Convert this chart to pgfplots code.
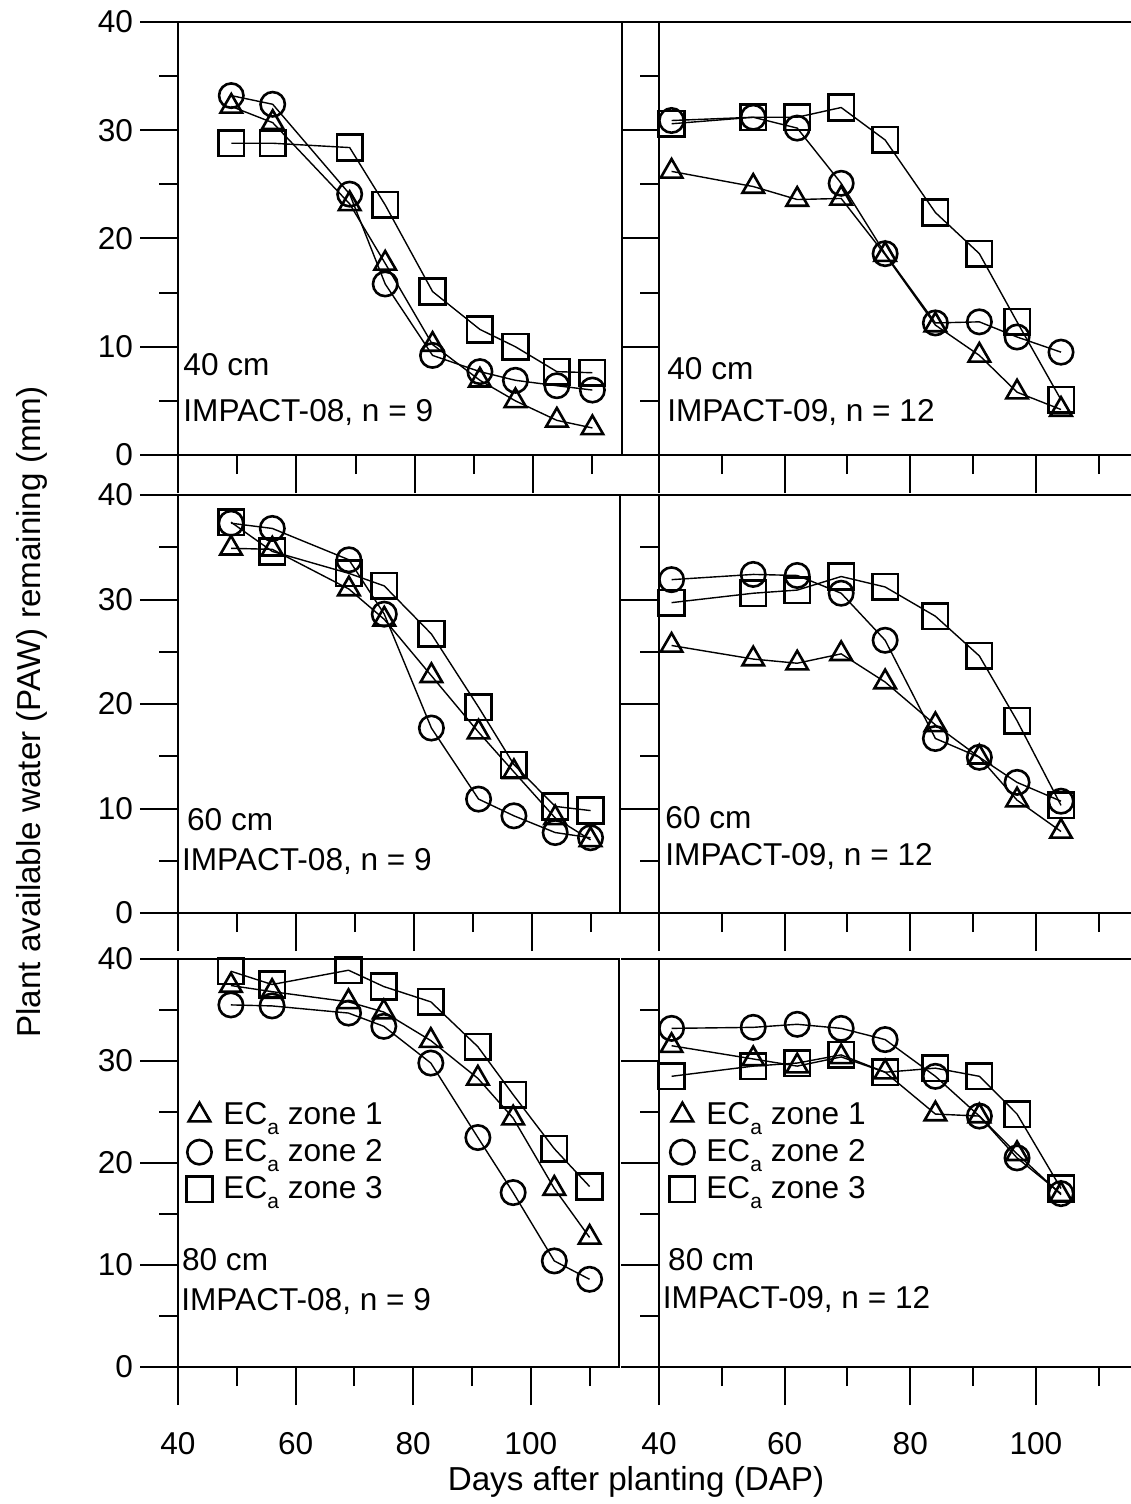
\documentclass[border=0pt]{standalone}
\usepackage{fontspec}
\setmainfont{Liberation Sans}
\usepackage{pgfplots}
\pgfplotsset{compat=1.18}
\newcommand{\fs}{\fontsize{15.8}{19}\selectfont}
\newcommand{\fl}{\fontsize{16.6}{20}\selectfont}
\newcommand{\ECa}{EC\raisebox{-0.32em}{\fontsize{10.5}{12}\selectfont a}}
\pgfplotsset{
  panel/.style={
    scale only axis, clip=false,
    xmin=40, ymin=0, ymax=40,
    xtick={40,60,80,100}, minor xtick={50,70,90,110},
    ytick={0,10,20,30,40}, minor ytick={5,15,25,35},
    tick align=outside, xtick pos=bottom, ytick pos=left,
    major tick length=19pt, minor tick length=9.5pt,
    every tick/.style={black, line width=1pt},
    axis line style={line width=1pt},
    /pgf/number format/assume math mode=true,
    tick label style={font=\fs},
    yticklabel style={anchor=east},
    xticklabel style={yshift=-10pt},
    every axis plot/.append style={black, line width=0.7pt, mark options={solid, line width=1.3pt, fill=none}},
  },
  leftcol/.style={panel, xmax=115, yticklabels={0,10,20,30,40}},
  rightcol/.style={panel, xmax=115.3, yticklabels={}},
  upper/.style={xticklabels={}},
  lower/.style={xticklabels={40,60,80,100}},
  z1/.style={mark=triangle, mark size=6.2pt},
  z2/.style={mark=o, mark size=6.1pt},
  z3/.style={mark=square, mark size=6.4pt},
  leg/.style={
    legend style={draw=none, fill=none, font=\fs, at={(#1,0.654)}, anchor=north west,
      inner sep=0pt, row sep=4pt, column sep=4pt, nodes={inner sep=1pt}},
    legend cell align=left,
    legend image code/.code={\draw[##1, only marks] plot coordinates {(0pt,0pt)}; \path[draw=none, fill=none] (-7pt,-7pt) rectangle (7pt,7pt);},
  },
}
\begin{document}
\begin{tikzpicture}
\useasboundingbox (0,0) rectangle (565pt,-752pt);

% ---------- top left: IMPACT-08, 40 cm
\begin{axis}[leftcol, upper, at={(89pt,-11pt)}, anchor=north west, width=222pt, height=216.5pt]
\addplot[z1] coordinates {(49,32.2)(56,30.7)(69,23.2)(75,17.7)(83,10.2)(91,6.9)(97,5.0)(104,3.2)(110,2.5)};
\addplot[z2] coordinates {(49,33.2)(56,32.4)(69,24.1)(75,15.8)(83,9.2)(91,7.7)(97,6.9)(104,6.4)(110,6.0)};
\addplot[z3] coordinates {(49,28.8)(56,28.8)(69,28.4)(75,23.1)(83,15.1)(91,11.6)(97,10.0)(104,7.7)(110,7.6)};
\node[anchor=base west, font=\fs, inner sep=0pt] at (axis cs:40.85,7.3) {40 cm};
\node[anchor=base west, font=\fs, inner sep=0pt] at (axis cs:40.85,3.14) {IMPACT-08, n = 9};
\end{axis}

% ---------- top right: IMPACT-09, 40 cm
\begin{axis}[rightcol, upper, at={(329.5pt,-11pt)}, anchor=north west, width=236.5pt, height=216.5pt]
\addplot[z1] coordinates {(42,26.2)(55,24.8)(62,23.6)(69,23.7)(76,18.5)(84,12.0)(91,9.2)(97,5.8)(104,4.2)};
\addplot[z2] coordinates {(42,30.9)(55,31.2)(62,30.2)(69,25.1)(76,18.6)(84,12.2)(91,12.3)(97,10.9)(104,9.5)};
\addplot[z3] coordinates {(42,30.6)(55,31.2)(62,31.2)(69,32.1)(76,29.1)(84,22.4)(91,18.6)(97,12.3)(104,5.1)};
\node[anchor=base west, font=\fs, inner sep=0pt] at (axis cs:41.27,7.0) {40 cm};
\node[anchor=base west, font=\fs, inner sep=0pt] at (axis cs:41.27,3.14) {IMPACT-09, n = 12};
\end{axis}

% ---------- middle left: IMPACT-08, 60 cm
\begin{axis}[leftcol, upper, at={(89pt,-247.5pt)}, anchor=north west, width=221pt, height=209pt]
\addplot[z1] coordinates {(49,34.9)(56,34.8)(69,31.0)(75,28.1)(83,22.7)(91,17.3)(97,13.5)(104,9.1)(110,7.0)};
\addplot[z2] coordinates {(49,37.3)(56,36.8)(69,33.8)(75,28.6)(83,17.7)(91,10.9)(97,9.3)(104,7.7)(110,7.2)};
\addplot[z3] coordinates {(49,37.4)(56,34.6)(69,32.5)(75,31.3)(83,26.7)(91,19.7)(97,14.2)(104,10.2)(110,9.8)};
\node[anchor=base west, font=\fs, inner sep=0pt] at (axis cs:41.48,7.94) {60 cm};
\node[anchor=base west, font=\fs, inner sep=0pt] at (axis cs:40.63,4.11) {IMPACT-08, n = 9};
\end{axis}

% ---------- middle right: IMPACT-09, 60 cm
\begin{axis}[rightcol, upper, at={(329.5pt,-247.5pt)}, anchor=north west, width=236.5pt, height=209pt]
\addplot[z1] coordinates {(42,25.6)(55,24.3)(62,23.9)(69,24.8)(76,22.1)(84,18.0)(91,14.9)(97,10.8)(104,7.8)};
\addplot[z2] coordinates {(42,31.9)(55,32.4)(62,32.3)(69,30.6)(76,26.1)(84,16.7)(91,14.9)(97,12.5)(104,10.7)};
\addplot[z3] coordinates {(42,29.7)(55,30.6)(62,30.9)(69,32.2)(76,31.2)(84,28.4)(91,24.6)(97,18.4)(104,10.3)};
\node[anchor=base west, font=\fs, inner sep=0pt] at (axis cs:40.96,8.13) {60 cm};
\node[anchor=base west, font=\fs, inner sep=0pt] at (axis cs:40.96,4.59) {IMPACT-09, n = 12};
\end{axis}

% ---------- bottom left: IMPACT-08, 80 cm
\begin{axis}[leftcol, lower, leg=0.016, at={(89pt,-479.5pt)}, anchor=north west, width=220.5pt, height=204pt]
\addplot[z1] coordinates {(49,37.4)(56,36.8)(69,35.8)(75,34.8)(83,32.0)(91,28.3)(97,24.4)(104,17.5)(110,12.7)};
\addlegendentry{\ECa{} zone 1}
\addplot[z2] coordinates {(49,35.5)(56,35.4)(69,34.7)(75,33.4)(83,29.8)(91,22.5)(97,17.1)(104,10.4)(110,8.6)};
\addlegendentry{\ECa{} zone 2}
\addplot[z3] coordinates {(49,38.8)(56,37.5)(69,38.9)(75,37.3)(83,35.8)(91,31.4)(97,26.7)(104,21.4)(110,17.7)};
\addlegendentry{\ECa{} zone 3}
\node[anchor=base west, font=\fs, inner sep=0pt] at (axis cs:40.63,9.5) {80 cm};
\node[anchor=base west, font=\fs, inner sep=0pt] at (axis cs:40.5,5.5) {IMPACT-08, n = 9};
\end{axis}

% ---------- bottom right: IMPACT-09, 80 cm
\begin{axis}[rightcol, lower, leg=0.019, at={(329.5pt,-479.5pt)}, anchor=north west, width=236.5pt, height=204pt]
\addplot[z1] coordinates {(42,31.5)(55,30.2)(62,29.5)(69,30.4)(76,28.9)(84,24.8)(91,24.6)(97,20.9)(104,16.9)};
\addlegendentry{\ECa{} zone 1}
\addplot[z2] coordinates {(42,33.2)(55,33.3)(62,33.6)(69,33.2)(76,32.1)(84,28.5)(91,24.6)(97,20.5)(104,17.0)};
\addlegendentry{\ECa{} zone 2}
\addplot[z3] coordinates {(42,28.5)(55,29.5)(62,29.8)(69,30.6)(76,28.9)(84,29.3)(91,28.5)(97,24.8)(104,17.5)};
\addlegendentry{\ECa{} zone 3}
\node[anchor=base west, font=\fs, inner sep=0pt] at (axis cs:41.4,9.5) {80 cm};
\node[anchor=base west, font=\fs, inner sep=0pt] at (axis cs:40.56,5.7) {IMPACT-09, n = 12};
\end{axis}

\node[rotate=90, font=\fl, anchor=base] at (20pt,-356pt) {Plant available water (PAW) remaining (mm)};
\node[font=\fl, anchor=base] at (318pt,-745pt) {Days after planting (DAP)};
\end{tikzpicture}
\end{document}
